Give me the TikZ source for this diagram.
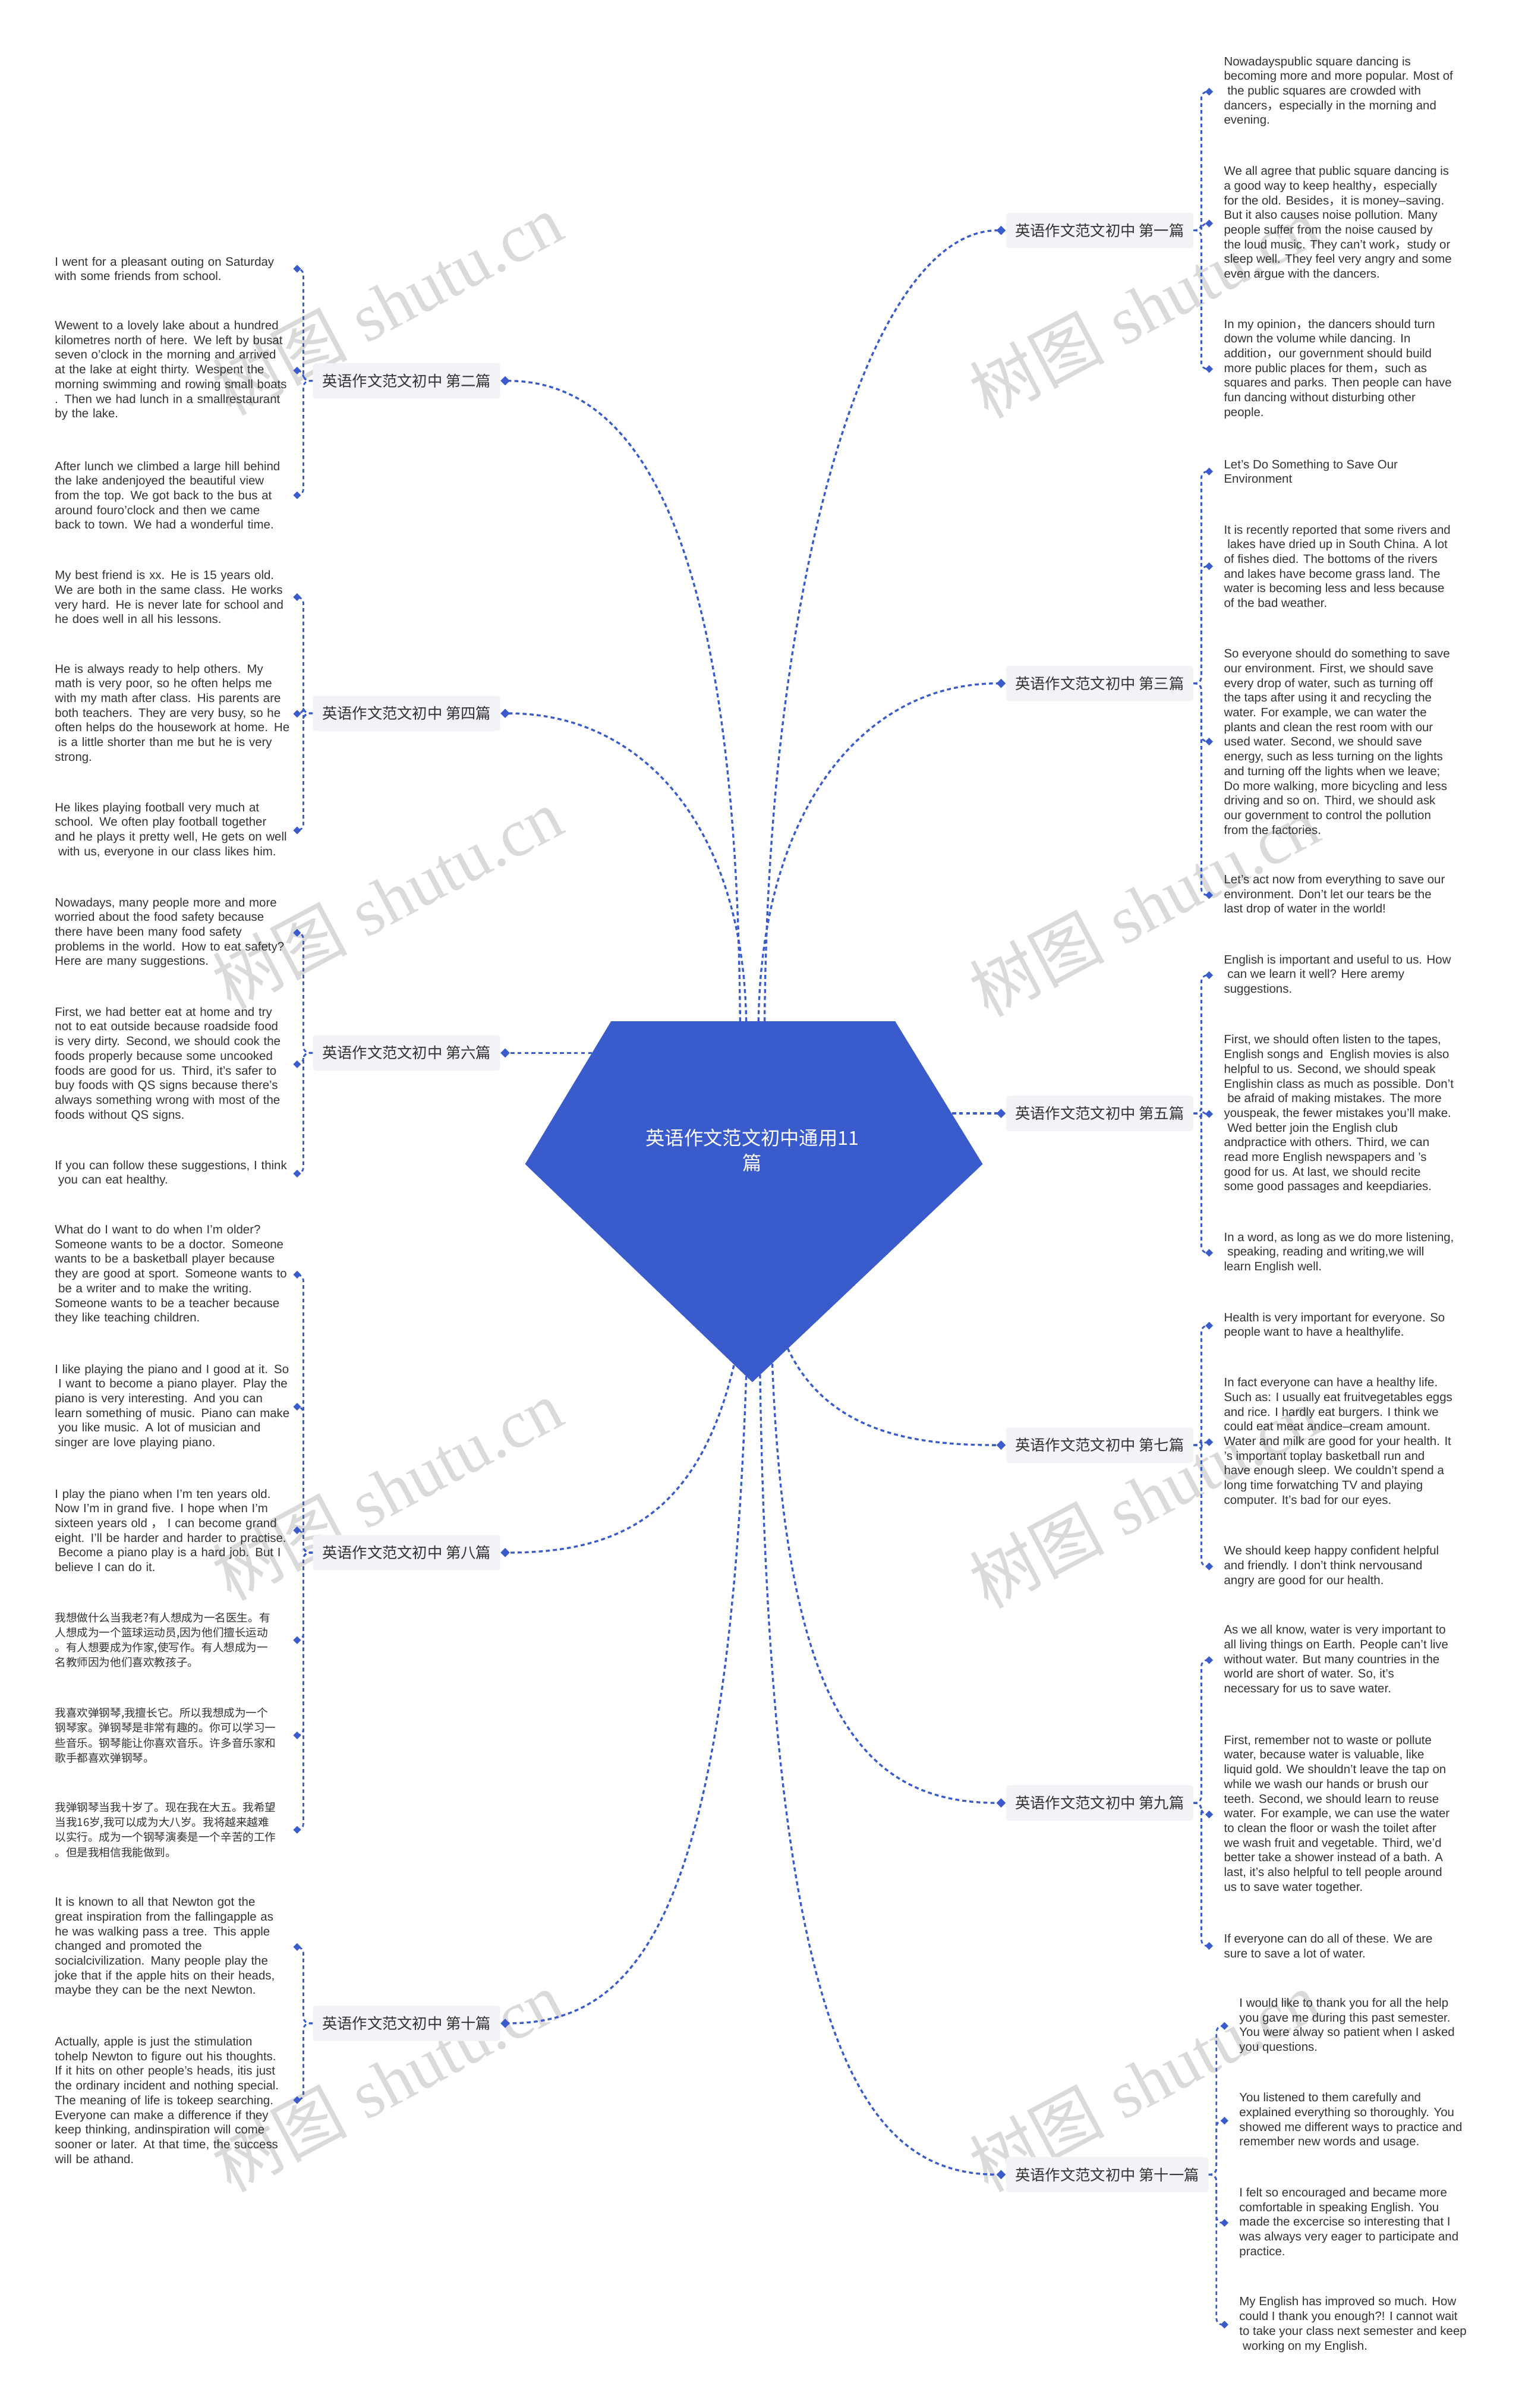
\documentclass[tikz,border=0pt]{standalone}
\usepackage{fontspec}
\setmainfont{Liberation Sans}
\newfontfamily\cjk{Noto Sans CJK SC}
\newfontfamily\wmserif{Liberation Serif}
\usepackage{tikz}
\usetikzlibrary{arrows.meta, positioning, calc}
\definecolor{MapBlue}{HTML}{3A5BCC}
\definecolor{TagGray}{HTML}{F2F3F7}
\definecolor{TextDark}{HTML}{333333}
\definecolor{WaterGray}{HTML}{DADADA}
\newcommand\zc{{\cjk ，}}
\newcommand\lsp{\hspace*{2.2pt}}

\begin{document}
\begin{tikzpicture}[
    x=1pt, y=-1pt,
    hubtext/.style={
        align=center,
        text=white,
        font=\cjk\fontsize{12.5}{16}\selectfont
    },
    branch/.style={
        fill=TagGray,
        rounded corners=2pt,
        text=TextDark,
        inner xsep=6pt,
        minimum height=23pt,
        font=\cjk\fontsize{9.8}{11}\selectfont
    },
    leaf/.style={
        align=left,
        text=TextDark,
        inner xsep=0pt,
        inner ysep=0pt,
        font=\fontsize{7.9}{9.56}\selectfont
    },
    leafL/.style={leaf, text width=155pt, anchor=east},
    leafR/.style={leaf, inner xsep=7pt, anchor=west},
    zhleaf/.style={leafL, font=\cjk\fontsize{7.2}{9.7}\selectfont},
    trunk/.style={
        draw=MapBlue,
        line width=1.3pt,
        dash pattern=on 2.6pt off 2pt,
        -{Diamond[length=6pt,width=6pt]}
    },
    twig/.style={
        draw=MapBlue,
        line width=1.1pt,
        dash pattern=on 2.4pt off 2pt,
        rounded corners=4pt,
        -{Diamond[length=5pt,width=5pt]}
    },
    wmark/.style={
        text=WaterGray,
        rotate=28,
        font=\fontsize{44}{44}\selectfont
    }
]
\useasboundingbox[fill=white] (0,0) rectangle (991,1568);

% Watermarks
\foreach \wx/\wy [count=\i] in {252/198, 252/585, 252/970, 252/1355, 745/200, 745/590, 745/975, 745/1355}
    \node[wmark] (wm\i) at (\wx,\wy) {{\cjk 树图} {\wmserif shutu.cn}};

% Hub
\fill[MapBlue] (398,665) -- (583,665) -- (640,758) -- (490,900) -- (342,758) -- cycle;
\node[hubtext] (hub) at (490,749) {英语作文范文初中通用11\\篇};
\coordinate (t1) at (498,665);
\coordinate (t3) at (494,665);
\coordinate (t4) at (486,665);
\coordinate (t2) at (482,665);
\coordinate (r5) at (620,725);
\coordinate (l6) at (385.6,685.6);
\coordinate (d7) at (513,878);
\coordinate (d9) at (503,888);
\coordinate (d11) at (495,895);
\coordinate (d8) at (478,889);
\coordinate (d10) at (486,896);

% Branches
\node[branch, anchor=west] (b1) at (655,150) {英语作文范文初中 第一篇};
\node[branch, anchor=west] (b3) at (655,445) {英语作文范文初中 第三篇};
\node[branch, anchor=west] (b5) at (655,725) {英语作文范文初中 第五篇};
\node[branch, anchor=west] (b7) at (655,941) {英语作文范文初中 第七篇};
\node[branch, anchor=west] (b9) at (655,1174) {英语作文范文初中 第九篇};
\node[branch, anchor=west] (b11) at (655,1416) {英语作文范文初中 第十一篇};
\node[branch, anchor=east] (b2) at (326,248) {英语作文范文初中 第二篇};
\node[branch, anchor=east] (b4) at (326,464.5) {英语作文范文初中 第四篇};
\node[branch, anchor=east] (b6) at (326,685.6) {英语作文范文初中 第六篇};
\node[branch, anchor=east] (b8) at (326,1011) {英语作文范文初中 第八篇};
\node[branch, anchor=east] (b10) at (326,1317.5) {英语作文范文初中 第十篇};

% Hub to branches
\draw[trunk] (t1) .. controls (500,380) and (565,150) .. (b1.west);
\draw[trunk] (t3) .. controls (496,530) and (560,445) .. (b3.west);
\draw[trunk] (r5) -- (b5.west);
\draw[trunk] (d7) .. controls (540,935) and (600,941) .. (b7.west);
\draw[trunk] (d9) .. controls (512,1120) and (565,1174) .. (b9.west);
\draw[trunk] (d11) .. controls (502,1340) and (565,1416) .. (b11.west);
\draw[trunk] (t2) .. controls (480,360) and (420,248) .. (b2.east);
\draw[trunk] (t4) .. controls (484,540) and (420,464.5) .. (b4.east);
\draw[trunk] (l6) -- (b6.east);
\draw[trunk] (d8) .. controls (455,985) and (405,1011) .. (b8.east);
\draw[trunk] (d10) .. controls (474,1250) and (415,1317.5) .. (b10.east);

% Leaves of the second essay
\node[leafL] (l2a) at (191,175) {I went for a pleasant outing on Saturday\\with some friends from school.};
\node[leafL] (l2b) at (191,241.3) {Wewent to a lovely lake about a hundred\\kilometres north of here. We left by busat\\seven o'clock in the morning and arrived\\at the lake at eight thirty. Wespent the\\morning swimming and rowing small boats\\. Then we had lunch in a smallrestaurant\\by the lake.};
\node[leafL] (l2c) at (191,322.5) {After lunch we climbed a large hill behind\\the lake andenjoyed the beautiful view\\from the top. We got back to the bus at\\around fouro'clock and then we came\\back to town. We had a wonderful time.};

% Leaves of the fourth essay
\node[leafL] (l4a) at (191,388.8) {My best friend is xx. He is 15 years old.\\We are both in the same class. He works\\very hard. He is never late for school and\\he does well in all his lessons.};
\node[leafL] (l4b) at (191,464.8) {He is always ready to help others. My\\math is very poor, so he often helps me\\with my math after class. His parents are\\both teachers. They are very busy, so he\\often helps do the housework at home. He\\\lsp is a little shorter than me but he is very\\strong.};
\node[leafL] (l4c) at (191,540.7) {He likes playing football very much at\\school. We often play football together\\and he plays it pretty well, He gets on well\\\lsp with us, everyone in our class likes him.};

% Leaves of the sixth essay
\node[leafL] (l6a) at (191,607.4) {Nowadays, many people more and more\\worried about the food safety because\\there have been many food safety\\problems in the world. How to eat safety?\\Here are many suggestions.};
\node[leafL] (l6b) at (191,693) {First, we had better eat at home and try\\not to eat outside because roadside food\\is very dirty. Second, we should cook the\\foods properly because some uncooked\\foods are good for us. Third, it’s safer to\\buy foods with QS signs because there’s\\always something wrong with most of the\\foods without QS signs.};
\node[leafL] (l6c) at (191,764.2) {If you can follow these suggestions, I think\\\lsp you can eat healthy.};

% Leaves of the eighth essay
\node[leafL] (l8a) at (191,830) {What do I want to do when I’m older?\\Someone wants to be a doctor. Someone\\wants to be a basketball player because\\they are good at sport. Someone wants to\\\lsp be a writer and to make the writing.\\Someone wants to be a teacher because\\they like teaching children.};
\node[leafL] (l8b) at (191,916) {I like playing the piano and I good at it. So\\\lsp I want to become a piano player. Play the\\piano is very interesting. And you can\\learn something of music. Piano can make\\\lsp you like music. A lot of musician and\\singer are love playing piano.};
\node[leafL] (l8c) at (191,996.5) {I play the piano when I’m ten years old.\\Now I’m in grand five. I hope when I’m\\sixteen years old \zc\ I can become grand\\eight. I’ll be harder and harder to practise.\\\lsp Become a piano play is a hard job. But I\\believe I can do it.};
\node[zhleaf] (l8d) at (191,1068) {我想做什么当我老?有人想成为一名医生。有\\人想成为一个篮球运动员,因为他们擅长运动\\。有人想要成为作家,使写作。有人想成为一\\名教师因为他们喜欢教孩子。};
\node[zhleaf] (l8e) at (191,1130) {我喜欢弹钢琴,我擅长它。所以我想成为一个\\钢琴家。弹钢琴是非常有趣的。你可以学习一\\些音乐。钢琴能让你喜欢音乐。许多音乐家和\\歌手都喜欢弹钢琴。};
\node[zhleaf] (l8f) at (191,1191.5) {我弹钢琴当我十岁了。现在我在大五。我希望\\当我16岁,我可以成为大八岁。我将越来越难\\以实行。成为一个钢琴演奏是一个辛苦的工作\\。但是我相信我能做到。};

% Leaves of the tenth essay
\node[leafL] (l10a) at (191,1267.8) {It is known to all that Newton got the\\great inspiration from the fallingapple as\\he was walking pass a tree. This apple\\changed and promoted the\\socialcivilization. Many people play the\\joke that if the apple hits on their heads,\\maybe they can be the next Newton.};
\node[leafL] (l10b) at (191,1367.5) {Actually, apple is just the stimulation\\tohelp Newton to figure out his thoughts.\\If it hits on other people's heads, itis just\\the ordinary incident and nothing special.\\The meaning of life is tokeep searching.\\Everyone can make a difference if they\\keep thinking, andinspiration will come\\sooner or later. At that time, the success\\will be athand.};

% Leaves of the first essay
\node[leafR] (r1a) at (790,59.7) {Nowadayspublic square dancing is\\becoming more and more popular. Most of\\\lsp the public squares are crowded with\\dancers\zc especially in the morning and\\evening.};
\node[leafR] (r1b) at (790,145.5) {We all agree that public square dancing is\\a good way to keep healthy\zc especially\\for the old. Besides\zc it is money–saving.\\But it also causes noise pollution. Many\\people suffer from the noise caused by\\the loud music. They can't work\zc study or\\sleep well. They feel very angry and some\\even argue with the dancers.};
\node[leafR] (r1c) at (790,240.3) {In my opinion\zc the dancers should turn\\down the volume while dancing. In\\addition\zc our government should build\\more public places for them\zc such as\\squares and parks. Then people can have\\fun dancing without disturbing other\\people.};

% Leaves of the third essay
\node[leafR] (r3a) at (790,307) {Let’s Do Something to Save Our\\Environment};
\node[leafR] (r3b) at (790,368.7) {It is recently reported that some rivers and\\\lsp lakes have dried up in South China. A lot\\of fishes died. The bottoms of the rivers\\and lakes have become grass land. The\\water is becoming less and less because\\of the bad weather.};
\node[leafR] (r3c) at (790,482.9) {So everyone should do something to save\\our environment. First, we should save\\every drop of water, such as turning off\\the taps after using it and recycling the\\water. For example, we can water the\\plants and clean the rest room with our\\used water. Second, we should save\\energy, such as less turning on the lights\\and turning off the lights when we leave;\\Do more walking, more bicycling and less\\driving and so on. Third, we should ask\\our government to control the pollution\\from the factories.};
\node[leafR] (r3d) at (790,582.9) {Let’s act now from everything to save our\\environment. Don’t let our tears be the\\last drop of water in the world!};

% Leaves of the fifth essay
\node[leafR] (r5a) at (790,635) {English is important and useful to us. How\\\lsp can we learn it well? Here aremy\\suggestions.};
\node[leafR] (r5b) at (790,725.4) {First, we should often listen to the tapes,\\English songs and\ \ English movies is also\\helpful to us. Second, we should speak\\Englishin class as much as possible. Don’t\\\lsp be afraid of making mistakes. The more\\youspeak, the fewer mistakes you’ll make.\\\lsp Wed better join the English club\\andpractice with others. Third, we can\\read more English newspapers and ’s\\good for us. At last, we should recite\\some good passages and keepdiaries.};
\node[leafR] (r5c) at (790,815.8) {In a word, as long as we do more listening,\\\lsp speaking, reading and writing,we will\\learn English well.};

% Leaves of the seventh essay
\node[leafR] (r7a) at (790,863.2) {Health is very important for everyone. So\\people want to have a healthylife.};
\node[leafR] (r7b) at (790,939.1) {In fact everyone can have a healthy life.\\Such as: I usually eat fruitvegetables eggs\\and rice. I hardly eat burgers. I think we\\could eat meat andice–cream amount.\\Water and milk are good for your health. It\\’s important toplay basketball run and\\have enough sleep. We couldn’t spend a\\long time forwatching TV and playing\\computer. It’s bad for our eyes.};
\node[leafR] (r7c) at (790,1020) {We should keep happy confident helpful\\and friendly. I don’t think nervousand\\angry are good for our health.};

% Leaves of the ninth essay
\node[leafR] (r9a) at (790,1081) {As we all know, water is very important to\\all living things on Earth. People can’t live\\without water. But many countries in the\\world are short of water. So, it’s\\necessary for us to save water.};
\node[leafR] (r9b) at (790,1181.5) {First, remember not to waste or pollute\\water, because water is valuable, like\\liquid gold. We shouldn’t leave the tap on\\while we wash our hands or brush our\\teeth. Second, we should learn to reuse\\water. For example, we can use the water\\to clean the floor or wash the toilet after\\we wash fruit and vegetable. Third, we’d\\better take a shower instead of a bath. A\\last, it’s also helpful to tell people around\\us to save water together.};
\node[leafR] (r9c) at (790,1267.1) {If everyone can do all of these. We are\\sure to save a lot of water.};

% Leaves of the eleventh essay
\node[leafR] (r11a) at (800,1319.2) {I would like to thank you for all the help\\you gave me during this past semester.\\You were alway so patient when I asked\\you questions.};
\node[leafR] (r11b) at (800,1380.9) {You listened to them carefully and\\explained everything so thoroughly. You\\showed me different ways to practice and\\remember new words and usage.};
\node[leafR] (r11c) at (800,1447.4) {I felt so encouraged and became more\\comfortable in speaking English. You\\made the excercise so interesting that I\\was always very eager to participate and\\practice.};
\node[leafR] (r11d) at (800,1513.7) {My English has improved so much. How\\could I thank you enough?! I cannot wait\\to take your class next semester and keep\\\lsp working on my English.};

% Branches to leaves
\foreach \b/\l in {b1/r1a, b1/r1b, b1/r1c, b3/r3a, b3/r3b, b3/r3c, b3/r3d, b5/r5a, b5/r5b, b5/r5c, b7/r7a, b7/r7b, b7/r7c, b9/r9a, b9/r9b, b9/r9c, b11/r11a, b11/r11b, b11/r11c, b11/r11d}
    \draw[twig] (\b.east) -- ++(5,0) |- (\l.west);
\foreach \b/\l in {b2/l2a, b2/l2b, b2/l2c, b4/l4a, b4/l4b, b4/l4c, b6/l6a, b6/l6b, b6/l6c, b8/l8a, b8/l8b, b8/l8c, b8/l8d, b8/l8e, b8/l8f, b10/l10a, b10/l10b}
    \draw[twig] (\b.west) -- ++(-6,0) |- (\l.east);

\end{tikzpicture}
\end{document}
